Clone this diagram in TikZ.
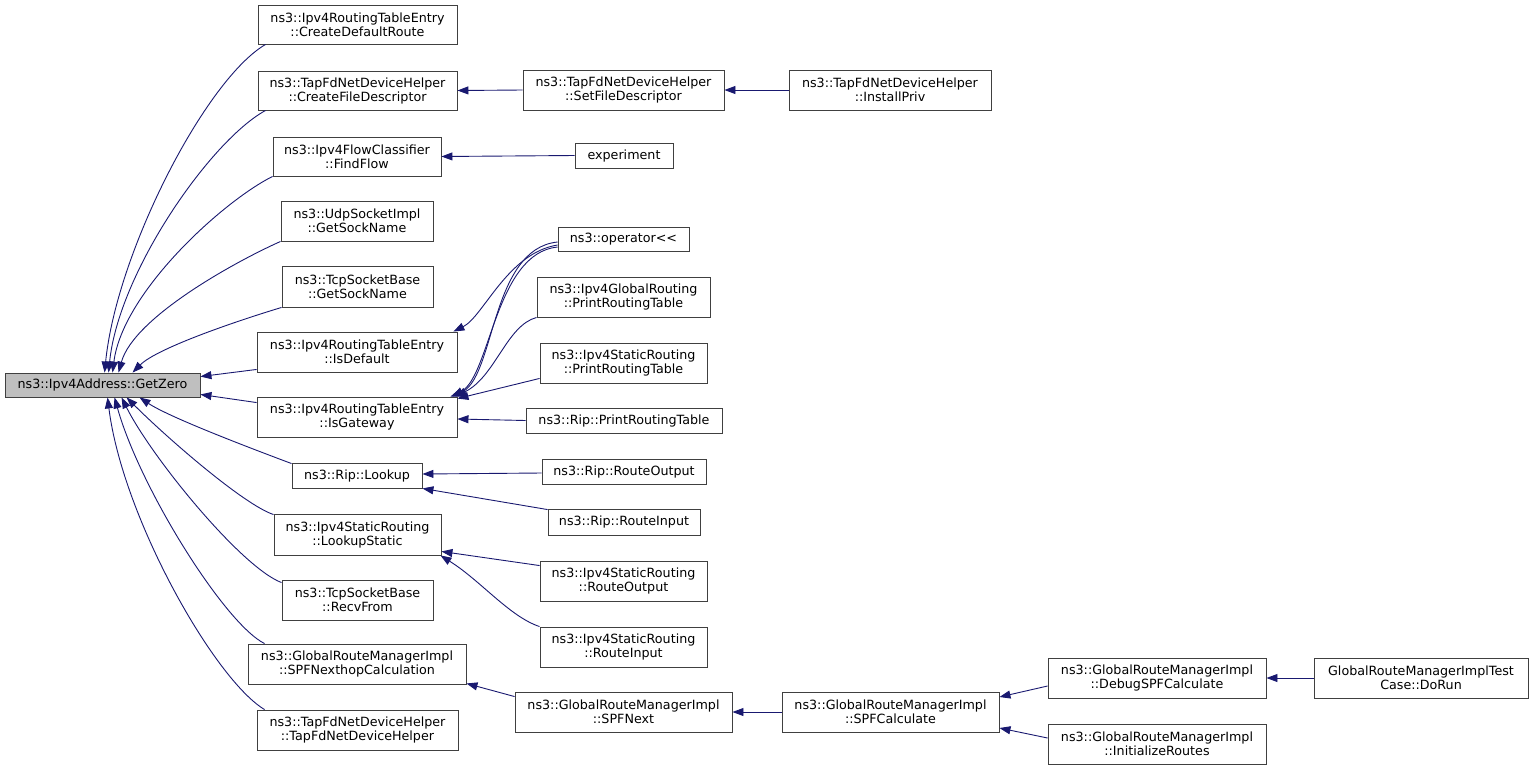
\documentclass[tikz,border=0pt]{standalone}
\usepackage{fontspec}
\setmainfont{DejaVu Sans}
\usetikzlibrary{arrows.meta}
\definecolor{edgeblue}{HTML}{191970}
\definecolor{boxgray}{HTML}{BFBFBF}
\tikzset{
  box/.style={draw=black!75, line width=0.9pt, rectangle, inner sep=0pt, align=center,
    font=\fontsize{12.7}{14}\selectfont, fill=white},
  edge/.style={draw=edgeblue, line width=0.9pt, -{Triangle[length=11pt,width=8pt]}},
}
\begin{document}
\begin{tikzpicture}[x=1pt,y=-1pt]
\useasboundingbox (0,0) rectangle (1533,769);
% nodes
\node[box, fill=boxgray, minimum width=195, minimum height=24] (gz) at (102.5,385) {ns3::Ipv4Address::GetZero};
\node[box, minimum width=199, minimum height=39] (cdr) at (357.5,24.5) {ns3::Ipv4RoutingTableEntry\\::CreateDefaultRoute};
\node[box, minimum width=199, minimum height=39] (cfd) at (357.5,90.5) {ns3::TapFdNetDeviceHelper\\::CreateFileDescriptor};
\node[box, minimum width=201, minimum height=40] (sfd) at (623.5,90) {ns3::TapFdNetDeviceHelper\\::SetFileDescriptor};
\node[box, minimum width=202, minimum height=40] (ip) at (890,90) {ns3::TapFdNetDeviceHelper\\::InstallPriv};
\node[box, minimum width=98, minimum height=25] (exp) at (624,155.5) {experiment};
\node[box, minimum width=168, minimum height=39] (ff) at (357,156.5) {ns3::Ipv4FlowClassifier\\::FindFlow};
\node[box, minimum width=152, minimum height=40] (ugsn) at (357,221) {ns3::UdpSocketImpl\\::GetSockName};
\node[box, minimum width=151, minimum height=41] (tgsn) at (357.5,286.5) {ns3::TcpSocketBase\\::GetSockName};
\node[box, minimum width=200, minimum height=40] (isd) at (357,352) {ns3::Ipv4RoutingTableEntry\\::IsDefault};
\node[box, minimum width=200, minimum height=40] (isg) at (357,417) {ns3::Ipv4RoutingTableEntry\\::IsGateway};
\node[box, minimum width=131, minimum height=24] (op) at (623.5,239) {ns3::operator<{}<};
\node[box, minimum width=173, minimum height=40] (gprt) at (623.5,297) {ns3::Ipv4GlobalRouting\\::PrintRoutingTable};
\node[box, minimum width=167, minimum height=40] (sprt) at (623.5,363) {ns3::Ipv4StaticRouting\\::PrintRoutingTable};
\node[box, minimum width=196, minimum height=25] (rprt) at (624,420.5) {ns3::Rip::PrintRoutingTable};
\node[box, minimum width=130, minimum height=25] (lk) at (357,475.5) {ns3::Rip::Lookup};
\node[box, minimum width=164, minimum height=25] (rro) at (624,471.5) {ns3::Rip::RouteOutput};
\node[box, minimum width=152, minimum height=26] (rri) at (624,522) {ns3::Rip::RouteInput};
\node[box, minimum width=167, minimum height=41] (ls) at (357.5,534.5) {ns3::Ipv4StaticRouting\\::LookupStatic};
\node[box, minimum width=151, minimum height=40] (rf) at (357.5,600) {ns3::TcpSocketBase\\::RecvFrom};
\node[box, minimum width=167, minimum height=40] (sro) at (623.5,581) {ns3::Ipv4StaticRouting\\::RouteOutput};
\node[box, minimum width=167, minimum height=40] (sri) at (623.5,647) {ns3::Ipv4StaticRouting\\::RouteInput};
\node[box, minimum width=218, minimum height=40] (snh) at (357,664) {ns3::GlobalRouteManagerImpl\\::SPFNexthopCalculation};
\node[box, minimum width=201, minimum height=40] (tfc) at (357.5,730) {ns3::TapFdNetDeviceHelper\\::TapFdNetDeviceHelper};
\node[box, minimum width=217, minimum height=40] (spfn) at (623.5,712) {ns3::GlobalRouteManagerImpl\\::SPFNext};
\node[box, minimum width=217, minimum height=40] (spfc) at (890.5,712) {ns3::GlobalRouteManagerImpl\\::SPFCalculate};
\node[box, minimum width=218, minimum height=40] (dbg) at (1157,678) {ns3::GlobalRouteManagerImpl\\::DebugSPFCalculate};
\node[box, minimum width=214, minimum height=40] (dr) at (1421,678) {GlobalRouteManagerImplTest\\Case::DoRun};
\node[box, minimum width=218, minimum height=40] (ir) at (1157,744) {ns3::GlobalRouteManagerImpl\\::InitializeRoutes};
% edges into GetZero
\draw[edge] ([xshift=8]cdr.south west) .. controls +(-60,35) and +(12,-120) .. ([xshift=100]gz.north west);
\draw[edge] ([xshift=8]cfd.south west) .. controls +(-55,30) and +(10,-100) .. ([xshift=104]gz.north west);
\draw[edge] (ff.south west) .. controls +(-50,25) and +(10,-80) .. ([xshift=108]gz.north west);
\draw[edge] (ugsn.south west) .. controls +(-45,20) and +(15,-55) .. ([xshift=114]gz.north west);
\draw[edge] (tgsn.south west) .. controls +(-40,12) and +(25,-25) .. ([xshift=128]gz.north west);
\draw[edge] ([yshift=3]isd.south west) -- ([yshift=-4]gz.north east);
\draw[edge] ([yshift=-6]isg.north west) -- ([yshift=3]gz.south east);
\draw[edge] ([yshift=-1]lk.north west) .. controls +(-40,-15) and +(30,20) .. ([xshift=135]gz.south west);
\draw[edge] ([yshift=-1]ls.north west) .. controls +(-30,-10) and +(40,40) .. ([xshift=122]gz.south west);
\draw[edge] ([yshift=-3]rf.north west) .. controls +(-40,-15) and +(30,60) .. ([xshift=117]gz.south west);
\draw[edge] ([xshift=17]snh.north west) .. controls +(-40,-20) and +(25,90) .. ([xshift=110]gz.south west);
\draw[edge] ([xshift=8]tfc.north west) .. controls +(-50,-30) and +(15,120) .. ([xshift=103]gz.south west);
% other edges
\draw[edge] (sfd.west) -- (cfd.east);
\draw[edge] (ip.west) -- (sfd.east);
\draw[edge] (exp.west) -- (ff.east);
\draw[edge] ([yshift=-6]op.west) .. controls +(-50,8) and +(30,-15) .. ([xshift=-4]isd.north east);
\draw[edge] ([yshift=-3]op.west) .. controls +(-68,7) and +(45,-17) .. ([xshift=-7]isg.north east);
\draw[edge] ([yshift=-8]op.west) .. controls +(-62,6) and +(38,-22) .. ([xshift=-5]isg.north east);
\draw[edge] (gprt.south west) .. controls +(-30,8) and +(40,-20) .. ([xshift=-2]isg.north east);
\draw[edge] ([yshift=5]sprt.south west) -- ([yshift=-2]isg.north east);
\draw[edge] (rprt.west) -- ([yshift=-2]isg.east);
\draw[edge] ([yshift=-1.5]rro.west) -- ([yshift=1.5]lk.east);
\draw[edge] ([yshift=-1]rri.north west) -- (lk.south east);
\draw[edge] ([yshift=-5]sro.north west) -- ([yshift=4]ls.south east);
\draw[edge] (sri.north west) .. controls +(-30,-10) and +(40,25) .. ([xshift=-1]ls.south east);
\draw[edge] ([yshift=-5]spfn.north west) -- ([yshift=1]snh.south east);
\draw[edge] (spfc.west) -- (spfn.east);
\draw[edge] ([yshift=-8]dbg.west) -- ([yshift=15]spfc.east);
\draw[edge] (dr.west) -- (dbg.east);
\draw[edge] ([yshift=6]ir.west) -- ([yshift=-16]spfc.east);
\end{tikzpicture}
\end{document}
